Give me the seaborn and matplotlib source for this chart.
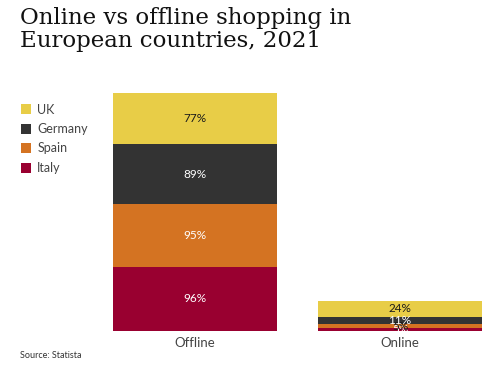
import pandas as pd
import matplotlib.pyplot as plt
import seaborn as sns

channels = ['Offline', 'Online']
countries = ['Italy', 'Spain', 'Germany', 'UK']  # stacking order, bottom to top
italy = [96, 5]
spain = [95, 5]
germany = [89, 11]
uk = [77, 24]

colors = {'UK': '#E8CD47', 'Germany': '#333333', 'Spain': '#D47322', 'Italy': '#990030'}
label_colors = {'UK': '#1a1a1a', 'Germany': 'white', 'Spain': '#1a1a1a', 'Italy': 'white'}

df = pd.DataFrame({'Channel': channels, 'Italy': italy, 'Spain': spain,
                   'Germany': germany, 'UK': uk})

sns.set_style('white')
plt.rcParams['font.family'] = ['Lato', 'DejaVu Sans']

fig = plt.figure(figsize=(4.91, 3.83), dpi=100)
ax = fig.add_axes([113 / 491, 1 - 331 / 383, 369 / 491, 238 / 383])

bottom = pd.Series([0, 0])
for c in countries:
    sns.barplot(data=df, x='Channel', y=c, bottom=bottom, color=colors[c],
                width=0.8, saturation=1, ax=ax, label=c, linewidth=0)
    bars = ax.containers[-1]
    # offline labels: white on dark segments, dark on yellow
    labs = [f'{v}%' for v in df[c]]
    texts = ax.bar_label(bars, labels=labs, label_type='center', fontsize=8.5)
    for t, ch in zip(texts, channels):
        if ch == 'Offline':
            t.set_color('#1a1a1a' if c == 'UK' else 'white')
        else:
            t.set_color(label_colors[c])
    bottom = bottom + df[c]

ax.set_ylim(0, bottom.max())
ax.set_xlim(-0.4, 1.4)
ax.set_yticks([])
ax.set_xlabel('')
ax.set_ylabel('')
sns.despine(ax=ax, left=True, bottom=True)
ax.tick_params(axis='x', length=0, labelsize=9.5, labelcolor='#444444', pad=4)

handles, labels = ax.get_legend_handles_labels()
order = [labels.index(c) for c in ['UK', 'Germany', 'Spain', 'Italy']]
leg = fig.legend([handles[i] for i in order], [labels[i] for i in order],
                 loc='upper left', bbox_to_anchor=(18 / 491, 1 - 101 / 383),
                 frameon=False, fontsize=9, handlelength=0.85, handleheight=0.85,
                 handletextpad=0.5, labelspacing=0.6, labelcolor='#444444',
                 borderpad=0.2, borderaxespad=0)
if ax.get_legend():
    ax.get_legend().remove()

fig.text(20 / 491, 1 - 7 / 383, 'Online vs offline shopping in\nEuropean countries, 2021',
         fontsize=16.5, family='DejaVu Serif', va='top', ha='left',
         linespacing=1.05, color='#111111')
fig.text(20 / 491, 1 - 358 / 383, 'Source: Statista', fontsize=6.5, color='#333333')

fig.savefig('out.png', dpi=100)
